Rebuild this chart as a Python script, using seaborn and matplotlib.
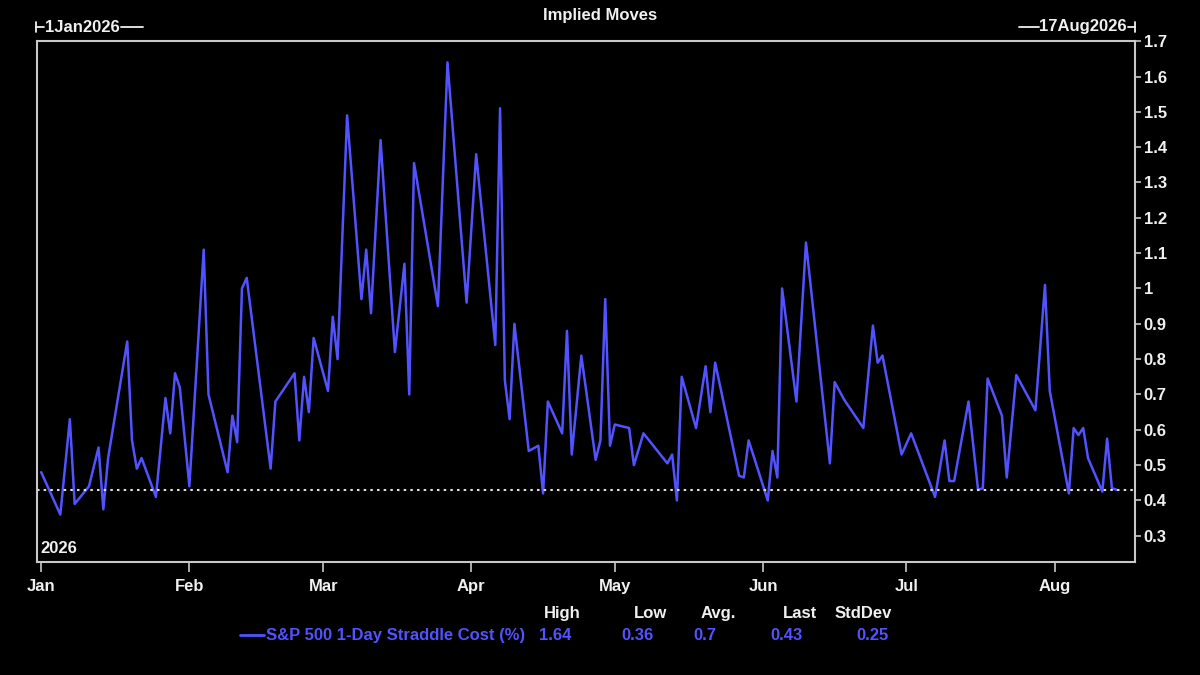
import numpy as np
import pandas as pd
import matplotlib
matplotlib.use("Agg")
import matplotlib.pyplot as plt
import matplotlib.dates as mdates
from matplotlib.lines import Line2D
import seaborn as sns

# S&P 500 1-day straddle cost (%), turning points
dates = [
    "2026-01-01", "2026-01-05", "2026-01-07", "2026-01-08", "2026-01-11", "2026-01-13",
    "2026-01-14", "2026-01-15", "2026-01-19", "2026-01-20", "2026-01-21", "2026-01-22",
    "2026-01-25", "2026-01-27", "2026-01-28", "2026-01-29", "2026-01-30", "2026-02-01",
    "2026-02-04", "2026-02-05", "2026-02-09", "2026-02-10", "2026-02-11", "2026-02-12",
    "2026-02-13", "2026-02-18", "2026-02-19", "2026-02-23", "2026-02-24", "2026-02-25",
    "2026-02-26", "2026-02-27", "2026-03-02", "2026-03-03", "2026-03-04", "2026-03-06",
    "2026-03-09", "2026-03-10", "2026-03-11", "2026-03-13", "2026-03-16", "2026-03-18",
    "2026-03-19", "2026-03-20", "2026-03-25", "2026-03-27", "2026-03-31", "2026-04-02",
    "2026-04-06", "2026-04-07", "2026-04-08", "2026-04-09", "2026-04-10", "2026-04-13",
    "2026-04-15", "2026-04-16", "2026-04-17", "2026-04-20", "2026-04-21", "2026-04-22",
    "2026-04-24", "2026-04-27", "2026-04-28", "2026-04-29", "2026-04-30", "2026-05-01",
    "2026-05-04", "2026-05-05", "2026-05-07", "2026-05-12", "2026-05-13", "2026-05-14",
    "2026-05-15", "2026-05-18", "2026-05-20", "2026-05-21", "2026-05-22", "2026-05-27",
    "2026-05-28", "2026-05-29", "2026-06-02", "2026-06-03", "2026-06-04", "2026-06-05",
    "2026-06-08", "2026-06-10", "2026-06-15", "2026-06-16", "2026-06-18", "2026-06-22",
    "2026-06-24", "2026-06-25", "2026-06-26", "2026-06-30", "2026-07-02", "2026-07-07",
    "2026-07-09", "2026-07-10", "2026-07-11", "2026-07-14", "2026-07-16", "2026-07-17",
    "2026-07-18", "2026-07-21", "2026-07-22", "2026-07-24", "2026-07-28", "2026-07-30",
    "2026-07-31", "2026-08-04", "2026-08-05", "2026-08-06", "2026-08-07", "2026-08-08",
    "2026-08-11", "2026-08-12", "2026-08-13", "2026-08-14",
]
straddle = [
    0.48, 0.36, 0.63, 0.39, 0.44, 0.55,
    0.375, 0.52, 0.85, 0.57, 0.49, 0.52,
    0.41, 0.69, 0.59, 0.76, 0.72, 0.44,
    1.11, 0.70, 0.48, 0.64, 0.565, 1.00,
    1.03, 0.49, 0.68, 0.76, 0.57, 0.75,
    0.65, 0.86, 0.71, 0.92, 0.80, 1.49,
    0.97, 1.11, 0.93, 1.42, 0.82, 1.07,
    0.70, 1.355, 0.95, 1.64, 0.96, 1.38,
    0.84, 1.51, 0.74, 0.63, 0.90, 0.54,
    0.555, 0.42, 0.68, 0.59, 0.88, 0.53,
    0.81, 0.515, 0.57, 0.97, 0.555, 0.615,
    0.605, 0.50, 0.59, 0.505, 0.53, 0.40,
    0.75, 0.605, 0.78, 0.65, 0.79, 0.47,
    0.465, 0.57, 0.40, 0.54, 0.465, 1.00,
    0.68, 1.13, 0.505, 0.735, 0.685, 0.605,
    0.895, 0.79, 0.81, 0.53, 0.59, 0.41,
    0.57, 0.455, 0.455, 0.68, 0.43, 0.435,
    0.745, 0.64, 0.465, 0.755, 0.655, 1.01,
    0.71, 0.42, 0.605, 0.585, 0.605, 0.52,
    0.425, 0.575, 0.435, 0.43,
]

series_name = "S&P 500 1-Day Straddle Cost (%)"
stat_names = ["High", "Low", "Avg.", "Last", "StdDev"]
stat_values = ["1.64", "0.36", "0.7", "0.43", "0.25"]
last_value = 0.43
yticks = [0.3, 0.4, 0.5, 0.6, 0.7, 0.8, 0.9, 1.0, 1.1, 1.2, 1.3, 1.4, 1.5, 1.6, 1.7]
ytick_labels = ["0.3", "0.4", "0.5", "0.6", "0.7", "0.8", "0.9", "1", "1.1",
                "1.2", "1.3", "1.4", "1.5", "1.6", "1.7"]

df = pd.DataFrame({"date": pd.to_datetime(dates), "value": straddle})

sns.set_style("dark")
plt.rcParams["font.family"] = ["Liberation Sans", "DejaVu Sans"]
plt.rcParams["font.weight"] = "bold"

WHITE = "#f0f0f0"
SPINE = "#c8c8c8"
BLUE = "#5252ff"

fig = plt.figure(figsize=(12, 6.75), dpi=100, facecolor="black")
ax = fig.add_axes([0.031, 0.167, 0.915, 0.772], facecolor="black")

sns.lineplot(data=df, x="date", y="value", ax=ax, color=BLUE, linewidth=1.8)
ax.axhline(last_value, color="#e0e0e0", linestyle=(0, (1.2, 2.0)), linewidth=1.5)

ax.set_xlim(pd.Timestamp("2025-12-31 04:00"), pd.Timestamp("2026-08-17 21:00"))
ax.set_ylim(0.225, 1.7)
ax.grid(False)

ax.xaxis.set_major_locator(mdates.MonthLocator())
ax.xaxis.set_major_formatter(mdates.DateFormatter("%b"))
ax.yaxis.tick_right()
ax.set_yticks(yticks)
ax.set_yticklabels(ytick_labels)
ax.tick_params(axis="x", colors=SPINE, labelcolor=WHITE, labelsize=12,
               length=7, width=1.2, direction="out", pad=5, bottom=True)
ax.tick_params(axis="y", colors=SPINE, labelcolor=WHITE, labelsize=12,
               length=4, width=1.2, direction="out", pad=2, right=True, left=False)
for lab in ax.get_xticklabels() + ax.get_yticklabels():
    lab.set_fontweight("bold")
ax.set_xlabel("")
ax.set_ylabel("")

for side in ["left", "bottom", "top", "right"]:
    ax.spines[side].set_visible(True)
    ax.spines[side].set_color(SPINE)
    ax.spines[side].set_linewidth(1.5)

ax.text(0.003, 0.012, "2026", transform=ax.transAxes, color=WHITE,
        fontsize=12, fontweight="bold", ha="left", va="bottom")

# header
fig.text(0.5, 0.977, "Implied Moves", color=WHITE, fontsize=12,
         fontweight="bold", ha="center", va="center")
fig.text(0.0375, 0.96, "1Jan2026", color=WHITE, fontsize=12,
         fontweight="bold", ha="left", va="center")
fig.text(0.939, 0.96, "17Aug2026", color=WHITE, fontsize=12,
         fontweight="bold", ha="right", va="center")
for xs, ys in [([0.030, 0.037], [0.96, 0.96]), ([0.030, 0.030], [0.952, 0.968]),
               ([0.101, 0.119], [0.96, 0.96]),
               ([0.849, 0.866], [0.96, 0.96]), ([0.940, 0.946], [0.96, 0.96]),
               ([0.946, 0.946], [0.952, 0.968])]:
    fig.add_artist(Line2D(xs, ys, color=WHITE, linewidth=1.3, transform=fig.transFigure))

# stats legend
header_right = [0.484, 0.556, 0.613, 0.681, 0.743]
value_left = [0.449, 0.518, 0.578, 0.642, 0.714]
for name, xr in zip(stat_names, header_right):
    fig.text(xr, 0.091, name, color=WHITE, fontsize=12, fontweight="bold",
             ha="right", va="center")
fig.add_artist(Line2D([0.200, 0.220], [0.059, 0.059], color=BLUE, linewidth=2,
                      transform=fig.transFigure))
fig.text(0.222, 0.059, series_name, color=BLUE, fontsize=12, fontweight="bold",
         ha="left", va="center")
for val, xl in zip(stat_values, value_left):
    fig.text(xl, 0.059, val, color=BLUE, fontsize=12, fontweight="bold",
             ha="left", va="center")

fig.savefig("out.png", dpi=100, facecolor="black")
